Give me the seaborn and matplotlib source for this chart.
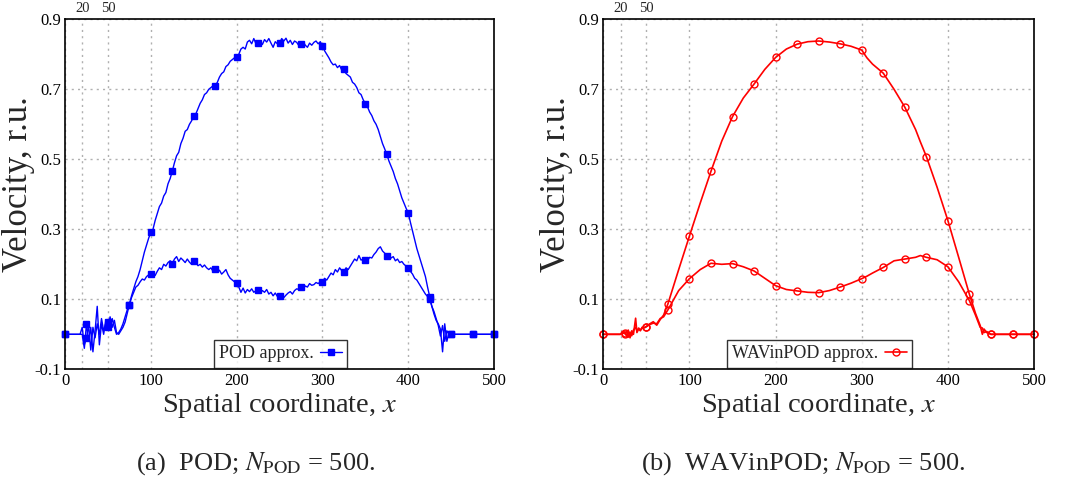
import matplotlib
matplotlib.use("Agg")
import matplotlib.pyplot as plt
from matplotlib.lines import Line2D
import numpy as np
import pandas as pd
import seaborn as sns

# --- data --------------------------------------------------------------
# POD panel: samples every 2.5 units of x (one row = 25 units), plus x=500
pod_step = 2.5
pod_hi = [
    0, 0, 0, 0, 0, 0, 0, 0, 0.0, -0.04,
    0.03, -0.02, 0.02, -0.05, 0.01, 0.08, -0.03, 0.03, 0.0, 0.04,
    0.02, 0.05, 0.02, 0.04, 0.005, 0.0, 0.01, 0.02, 0.035, 0.06,
    0.085, 0.11, 0.13, 0.15, 0.165, 0.185, 0.21, 0.235, 0.255, 0.275,
    0.291, 0.30, 0.325, 0.345, 0.365, 0.375, 0.395, 0.405, 0.43, 0.445,
    0.466, 0.49, 0.51, 0.52, 0.545, 0.56, 0.58, 0.585, 0.60, 0.61,
    0.624, 0.63, 0.645, 0.66, 0.67, 0.685, 0.69, 0.70, 0.705, 0.71,
    0.71, 0.72, 0.735, 0.745, 0.75, 0.765, 0.77, 0.78, 0.785, 0.79,
    0.793, 0.80, 0.815, 0.82, 0.815, 0.835, 0.84, 0.83, 0.845, 0.83,
    0.832, 0.838, 0.828, 0.842, 0.835, 0.845, 0.832, 0.82, 0.836, 0.83,
    0.832, 0.845, 0.838, 0.846, 0.832, 0.84, 0.828, 0.838, 0.834, 0.825,
    0.83, 0.836, 0.826, 0.82, 0.832, 0.826, 0.834, 0.838, 0.83, 0.836,
    0.824, 0.81, 0.80, 0.79, 0.778, 0.77, 0.772, 0.762, 0.768, 0.755,
    0.757, 0.745, 0.74, 0.735, 0.72, 0.715, 0.705, 0.69, 0.685, 0.67,
    0.659, 0.65, 0.635, 0.625, 0.61, 0.60, 0.585, 0.565, 0.545, 0.53,
    0.514, 0.495, 0.48, 0.465, 0.445, 0.43, 0.41, 0.39, 0.375, 0.36,
    0.347, 0.32, 0.295, 0.27, 0.245, 0.225, 0.205, 0.185, 0.165, 0.135,
    0.108, 0.08, 0.058, 0.04, 0.03, 0.015, -0.05, 0.03, -0.02, 0.005,
    0, 0, 0, 0, 0, 0, 0, 0, 0, 0,
    0, 0, 0, 0, 0, 0, 0, 0, 0, 0,
    0,
]
pod_lo = [
    0, 0, 0, 0, 0, 0, 0, 0, 0.02, -0.03,
    -0.01, 0.025, -0.045, 0.02, -0.01, 0.03, 0.0, 0.045, 0.01, 0.03,
    0.035, 0.015, 0.045, 0.02, 0.0, 0.005, 0.015, 0.03, 0.05, 0.07,
    0.085, 0.105, 0.12, 0.135, 0.14, 0.15, 0.158, 0.155, 0.165, 0.17,
    0.172, 0.175, 0.168, 0.18, 0.19, 0.185, 0.2, 0.195, 0.205, 0.21,
    0.201, 0.215, 0.222, 0.208, 0.218, 0.212, 0.205, 0.215, 0.206, 0.2,
    0.21, 0.205, 0.196, 0.2, 0.192, 0.198, 0.19, 0.185, 0.19, 0.18,
    0.186, 0.178, 0.183, 0.172, 0.178, 0.185, 0.17, 0.16, 0.155, 0.15,
    0.148, 0.135, 0.12, 0.132, 0.118, 0.128, 0.122, 0.13, 0.12, 0.125,
    0.127, 0.118, 0.125, 0.12, 0.128, 0.115, 0.12, 0.11, 0.118, 0.108,
    0.11, 0.115, 0.105, 0.112, 0.118, 0.122, 0.115, 0.125, 0.13, 0.128,
    0.136, 0.13, 0.138, 0.135, 0.145, 0.14, 0.142, 0.148, 0.145, 0.15,
    0.15, 0.16, 0.155, 0.165, 0.175, 0.17, 0.185, 0.178, 0.19, 0.182,
    0.179, 0.19, 0.185, 0.195, 0.205, 0.215, 0.21, 0.225, 0.212, 0.215,
    0.212, 0.21, 0.22, 0.218, 0.228, 0.235, 0.245, 0.25, 0.238, 0.232,
    0.224, 0.228, 0.218, 0.222, 0.21, 0.215, 0.205, 0.208, 0.2, 0.195,
    0.189, 0.18, 0.172, 0.16, 0.155, 0.145, 0.135, 0.125, 0.115, 0.108,
    0.1, 0.08, 0.065, 0.045, 0.025, -0.005, 0.025, -0.02, 0.01, 0.0,
    0, 0, 0, 0, 0, 0, 0, 0, 0, 0,
    0, 0, 0, 0, 0, 0, 0, 0, 0, 0,
    0,
]
pod_x = [i * pod_step for i in range(len(pod_hi))]

# WAVinPOD panel: smooth curves, irregular sampling
wav_x = [0, 12.5, 20, 22, 25, 27, 29, 31, 33, 35, 37.5, 39, 41, 43, 45, 47.5,
         50, 54, 58, 62, 66, 70, 75, 87.5, 100, 112.5, 125, 137.5, 150, 162.5,
         175, 187.5, 200, 212.5, 225, 237.5, 250, 262.5, 275, 287.5, 300, 306,
         312.5, 325, 337.5, 350, 362.5, 368, 375, 387.5, 400, 412.5, 425, 432,
         437.5, 440, 442, 445, 450, 462.5, 475, 487.5, 500]
wav_hi = [0, 0, 0.0, 0.008, 0.004, -0.005, 0.012, -0.01, 0.01, 0.0, 0.046,
          0.005, 0.015, 0.01, 0.02, 0.018,
          0.022, 0.03, 0.036, 0.026, 0.042, 0.055, 0.087, 0.185, 0.281, 0.375,
          0.466, 0.552, 0.622, 0.675,
          0.715, 0.757, 0.791, 0.815, 0.829, 0.836, 0.838, 0.835, 0.83, 0.823,
          0.812, 0.79,
          0.772, 0.746, 0.70, 0.649, 0.585, 0.55, 0.508, 0.42, 0.325, 0.22,
          0.114, 0.06,
          0.025, 0.0, 0.015, 0.005, 0.0, 0, 0, 0, 0]
wav_lo = [0, 0, 0.0, 0.004, 0.002, 0.008, -0.008, 0.006, -0.004, 0.012, 0.02,
          0.01, 0.018, 0.012, 0.018, 0.02,
          0.022, 0.028, 0.032, 0.03, 0.045, 0.05, 0.07, 0.125, 0.159, 0.185,
          0.203, 0.2, 0.202, 0.193,
          0.181, 0.16, 0.139, 0.128, 0.124, 0.12, 0.119, 0.125, 0.135, 0.146,
          0.159, 0.166,
          0.175, 0.191, 0.21, 0.215, 0.22, 0.225, 0.22, 0.213, 0.193, 0.15,
          0.096, 0.055,
          0.02, 0.018, 0.005, 0.008, 0.0, 0, 0, 0, 0]

y_ticks = [-0.1, 0.1, 0.3, 0.5, 0.7, 0.9]
x_ticks = [0, 100, 200, 300, 400, 500]
x_extra = [20, 50]

# --- style --------------------------------------------------------------
sns.set_theme(style="white")
plt.rcParams["font.family"] = ["Liberation Serif", "DejaVu Serif"]
plt.rcParams["mathtext.fontset"] = "stix"

fig = plt.figure(figsize=(10.68, 4.8), dpi=100)
ax1 = fig.add_axes([0.0609, 0.2306, 0.4017, 0.7292])
ax2 = fig.add_axes([0.5649, 0.2306, 0.4033, 0.7292])


def draw_panel(ax, x, curves, color, marker, mfc, ms, lw, label, caption,
               cap_x):
    mask = [float(v) % 25 == 0 for v in x]
    for y in curves:
        df = pd.DataFrame({"x": x, "v": y})
        sns.lineplot(data=df, x="x", y="v", ax=ax, color=color, lw=lw,
                     estimator=None, sort=False, marker=marker, markevery=mask,
                     ms=ms, mfc=mfc, mec=color, mew=1.0, clip_on=False)
    ax.set_xlim(0, 500)
    ax.set_ylim(-0.1, 0.9)
    ax.set_xticks(x_ticks)
    ax.set_xticks(x_extra, minor=True)
    ax.set_yticks(y_ticks)
    ax.set_yticklabels(["-0.1", "0.1", "0.3", "0.5", "0.7", "0.9"])
    ax.tick_params(axis="both", which="major", labelsize=12, direction="in",
                   length=3, pad=3, colors="black")
    ax.tick_params(axis="x", which="minor", length=0)
    ax.grid(True, which="both", axis="x", ls=(0, (1.5, 3)), color="#b0b0b0", lw=1)
    ax.grid(True, which="major", axis="y", ls=(0, (1.5, 3)), color="#b0b0b0", lw=1)
    for s in ax.spines.values():
        s.set_color("black")
        s.set_linewidth(1.2)
    ax.set_xlabel("Spatial coordinate, $x$", fontsize=20.5, labelpad=1)
    ax.set_ylabel("Velocity, r.u.", fontsize=25)
    ax.yaxis.set_label_coords(-0.071, 0.53)

    top = ax.secondary_xaxis("top")
    top.set_xticks(x_extra)
    top.set_xticklabels(["20", "50"])
    top.tick_params(length=0, labelsize=10.5, pad=3)
    top.spines["top"].set_visible(False)

    handle = Line2D([], [], color=color, lw=lw, marker=marker, ms=ms,
                    mfc=mfc, mec=color, mew=1.0)
    leg = ax.legend([handle], [label], loc="lower center",
                    bbox_to_anchor=(0.502, 0.005), fontsize=13, frameon=True,
                    fancybox=False, markerfirst=False, handlelength=1.2,
                    borderpad=0.3, borderaxespad=0.0, handletextpad=0.35)
    leg.get_frame().set_edgecolor("black")
    leg.get_frame().set_linewidth(1.0)

    fig.text(cap_x, 0.034, caption, ha="center", va="center", fontsize=19)


draw_panel(ax1, pod_x, [pod_hi, pod_lo], "#0000ff", "s", "#0000ff", 4, 1.0,
           "POD approx.", r"(a)  POD; $N_{\mathrm{POD}}$ = 500.", 0.2392)
draw_panel(ax2, wav_x, [wav_hi, wav_lo], "#ff0000", "o", "none", 5, 1.2,
           "WAVinPOD approx.", r"(b)  WAVinPOD; $N_{\mathrm{POD}}$ = 500.",
           0.7519)

fig.savefig("out.png", dpi=100)
